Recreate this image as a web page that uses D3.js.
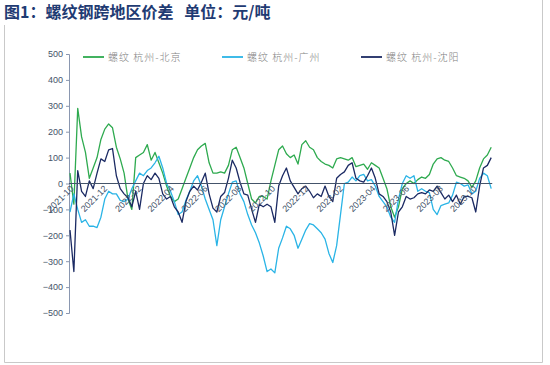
<!DOCTYPE html>
<html><head><meta charset="utf-8">
<script src="https://cdn.jsdelivr.net/npm/d3@7"></script>
<style>
html,body{margin:0;padding:0;background:#fff;}
svg{display:block;}
</style></head>
<body>
<svg id="c" width="550" height="365"></svg>
<script>
// ---- data (weekly readings, starting 2021-10-01) ----
const startDate = "2021-10-01";
const seriesNames = ["螺纹 杭州-北京", "螺纹 杭州-广州", "螺纹 杭州-沈阳"];
const hzBeijing = [40,-80,290,180,120,20,60,100,170,210,230,215,140,95,40,-60,-100,100,110,120,150,90,120,80,40,-10,-50,-70,-60,-20,20,60,100,130,145,155,80,40,40,45,40,70,130,140,100,60,0,-60,-75,-50,-50,-60,10,70,130,145,115,100,110,75,150,165,140,130,100,85,75,70,60,95,100,95,90,100,65,70,75,55,80,70,60,20,-20,-90,-130,-90,-20,0,10,0,15,25,20,35,75,95,100,90,85,60,30,25,20,10,-15,10,60,95,110,140];
const hzGuangzhou = [-110,-40,-100,-150,-140,-165,-165,-170,-130,-60,-30,-40,-40,-65,-70,-60,-20,10,40,30,50,60,80,105,60,0,-30,-70,-120,-110,-65,-30,10,30,-10,-60,-100,-140,-240,-140,-90,-40,5,10,-40,-70,-120,-160,-190,-230,-280,-340,-330,-345,-250,-210,-165,-175,-200,-250,-215,-180,-155,-160,-175,-190,-215,-270,-305,-240,-120,0,5,25,10,30,35,10,15,-10,-50,-70,-90,-130,-150,-60,0,30,20,30,-30,-20,-30,-35,-100,-120,-85,-80,-75,-45,5,0,-10,-5,-40,-30,20,40,30,-20];
const hzShenyang = [-180,-340,50,-30,-50,10,-20,40,95,85,130,135,30,-20,-40,-55,-90,-30,-100,0,30,15,40,20,-40,-60,-50,-90,-110,-150,-70,-30,-10,-25,5,40,-40,-95,-110,-50,-35,20,90,60,5,-40,-45,-100,-150,-80,-90,-80,-90,-150,-10,30,60,10,-15,-40,-20,-10,-30,-55,-40,-50,-10,-50,-70,20,35,45,70,80,20,10,5,30,60,20,-40,-50,-70,-110,-200,-110,-90,-50,-60,-55,-40,-35,-40,-25,-30,-10,-35,-60,-45,-70,-45,-80,-50,-50,-55,-110,-10,60,70,100];
const yTicks = [500,400,300,200,100,0,-100,-200,-300,-400,-500];
const xTickMonths = ["2021-10","2021-12","2022-02","2022-04","2022-06","2022-08","2022-10","2022-12","2023-02","2023-04","2023-06","2023-08","2023-10"];
const colors = ["#2EAA4F", "#2AB4E6", "#1B2A63"];

// ---- build ----
const svg = d3.select("#c");
const parseDay = d3.timeParse("%Y-%m-%d");
const parseMonth = d3.timeParse("%Y-%m");
const t0 = parseDay(startDate);
const dates = hzBeijing.map((_, i) => d3.timeDay.offset(t0, 7 * i));

const x = d3.scaleTime()
  .domain([parseMonth("2021-10"), parseMonth("2023-10")])
  .range([70, 473]);
const y = d3.scaleLinear().domain([-500, 500]).range([313, 54]);

// frame
svg.append("path")
  .attr("d", "M4.5,25 V362.5 H542.5 V0")
  .attr("fill", "none").attr("stroke", "#c9c9c9").attr("stroke-width", 1);

// title
svg.append("text").attr("x", 4).attr("y", 18)
  .attr("font-family", "'Noto Sans CJK SC', sans-serif")
  .attr("font-weight", "bold").attr("font-size", 16)
  .attr("fill", "#1F3B73")
  .style("white-space", "pre")
  .text("图1：螺纹钢跨地区价差   单位：元/吨");

// y axis
const yAxis = svg.append("g").attr("transform", "translate(69,0)")
  .call(d3.axisLeft(y).tickValues(yTicks).tickSize(3).tickPadding(3).tickFormat(d3.format("d")));
yAxis.select(".domain").attr("stroke", "#8A97B0");
yAxis.selectAll(".tick line").attr("stroke", "#8A97B0");
yAxis.selectAll("text").attr("fill", "#44546A").attr("font-size", 9)
  .attr("font-family", "'Liberation Sans', Arial, sans-serif");

// lines
const series = [hzBeijing, hzGuangzhou, hzShenyang];
const line = d3.line().x((d, i) => x(dates[i])).y(d => y(d));
series.forEach((s, k) => {
  svg.append("path").datum(s)
    .attr("d", line)
    .attr("fill", "none")
    .attr("stroke", colors[k])
    .attr("stroke-width", 1.3)
    .attr("stroke-linejoin", "round");
});

// x axis at zero
const xAxis = svg.append("g").attr("transform", `translate(0,${y(0)})`)
  .call(d3.axisBottom(x).tickValues(xTickMonths.map(parseMonth)).tickSize(0).tickFormat(d3.timeFormat("%Y-%m")));
xAxis.select(".domain").attr("stroke", "#44546A").attr("stroke-width", 1.2)
  .attr("d", `M69,0H${x(dates[dates.length - 1]) + 1}`);
xAxis.selectAll("text")
  .attr("fill", "#44546A").attr("font-size", 9)
  .attr("font-family", "'Liberation Sans', Arial, sans-serif")
  .attr("text-anchor", "end")
  .attr("dy", null).attr("y", 0)
  .attr("transform", "translate(2,4) rotate(-45)")
  .attr("dominant-baseline", "middle");

// legend
const legX = [83, 222, 361];
seriesNames.forEach((n, k) => {
  const g = svg.append("g").attr("transform", `translate(${legX[k]},57)`);
  g.append("line").attr("x1", 0).attr("x2", 21).attr("y1", 0).attr("y2", 0)
    .attr("stroke", colors[k]).attr("stroke-width", 1.8);
  g.append("text").attr("x", 25).attr("y", 3.5)
    .attr("font-family", "'Noto Sans CJK SC', sans-serif")
    .attr("font-size", 10).attr("fill", "#7F7F7F").attr("font-weight", 300)
    .attr("letter-spacing", 1)
    .text(n);
});
</script>
</body></html>
